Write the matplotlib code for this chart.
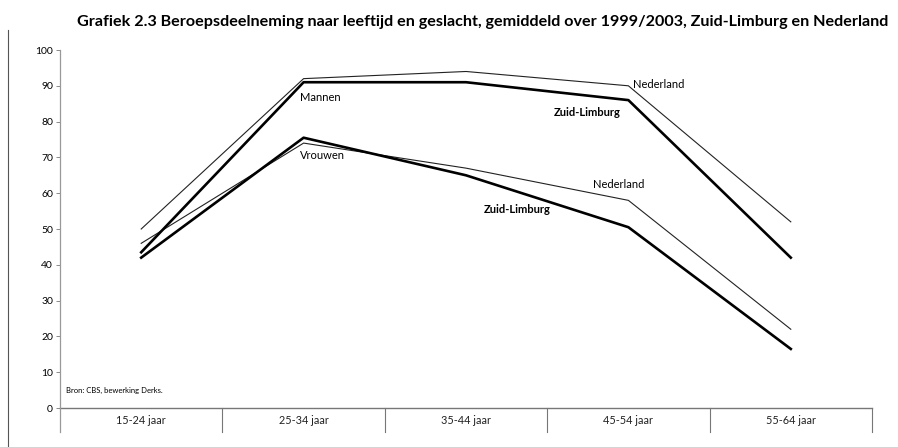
import numpy as np
import matplotlib
matplotlib.use('Agg')
import matplotlib.pyplot as plt

plt.rcParams['font.family'] = ['Lato', 'DejaVu Sans']

# leeftijdsklassen en percentages (gemiddeld 1999/2003)
categories = ['15-24 jaar', '25-34 jaar', '35-44 jaar', '45-54 jaar', '55-64 jaar']
mannen_nl = [50, 92, 94, 90, 52]
mannen_zl = [43.5, 91, 91, 86, 42]
vrouwen_nl = [46, 74, 67, 58, 22]
vrouwen_zl = [42, 75.5, 65, 50.5, 16.5]

fig = plt.figure(figsize=(8.98, 4.47), dpi=100)
ax = fig.add_axes([60/898, 1-432/447, 812/898, 382/447])

x = np.arange(len(categories))
ax.plot(x, mannen_nl, color='#222222', lw=0.8)
ax.plot(x, vrouwen_nl, color='#222222', lw=0.8)
ax.plot(x, mannen_zl, color='black', lw=1.9)
ax.plot(x, vrouwen_zl, color='black', lw=1.9)

ymin = -6.7
ax.set_xlim(-0.5, 4.5)
ax.set_ylim(ymin, 100)

# assen
for s in ['top', 'right', 'bottom']:
    ax.spines[s].set_visible(False)
ax.spines['left'].set_color('#999999')
ax.spines['left'].set_linewidth(0.9)
ax.plot([-0.5, 4.5], [0, 0], color='#777777', lw=1.0, clip_on=False)
for b in np.arange(0.5, 5, 1):
    ax.plot([b, b], [ymin, 0], color='#777777', lw=0.8, clip_on=False)

ax.set_xticks([])
ax.set_yticks(range(0, 101, 10))
ax.tick_params(axis='y', length=3, width=0.6, color='#777777', labelsize=7.5, pad=2)

for i, c in enumerate(categories):
    ax.text(i, ymin/2, c, ha='center', va='center', fontsize=7.8, color='#222222')

# labels bij de lijnen
ax.text(0.98, 86.8, 'Mannen', fontsize=8, ha='left', va='center')
ax.text(0.98, 70.5, 'Vrouwen', fontsize=8, ha='left', va='center')
ax.text(3.03, 90.5, 'Nederland', fontsize=8, ha='left', va='center')
ax.text(2.95, 82.5, 'Zuid-Limburg', fontsize=8, ha='right', va='center', fontweight='bold')
ax.text(3.10, 62.5, 'Nederland', fontsize=8, ha='right', va='center')
ax.text(2.52, 55.5, 'Zuid-Limburg', fontsize=8, ha='right', va='center', fontweight='bold')
ax.text(-0.46, 5, 'Bron: CBS, bewerking Derks.', fontsize=5.5, ha='left', va='center')

fig.text(888/898, 1-22/447, 'Grafiek 2.3 Beroepsdeelneming naar leeftijd en geslacht, gemiddeld over 1999/2003, '
         'Zuid-Limburg en Nederland', ha='right', va='center', fontsize=11.6, fontweight='bold')

# linker kaderlijn
fig.add_artist(plt.Line2D([8/898, 8/898], [0, 1-30/447], color='#555555', lw=0.8))

fig.savefig('out.png', dpi=100)
